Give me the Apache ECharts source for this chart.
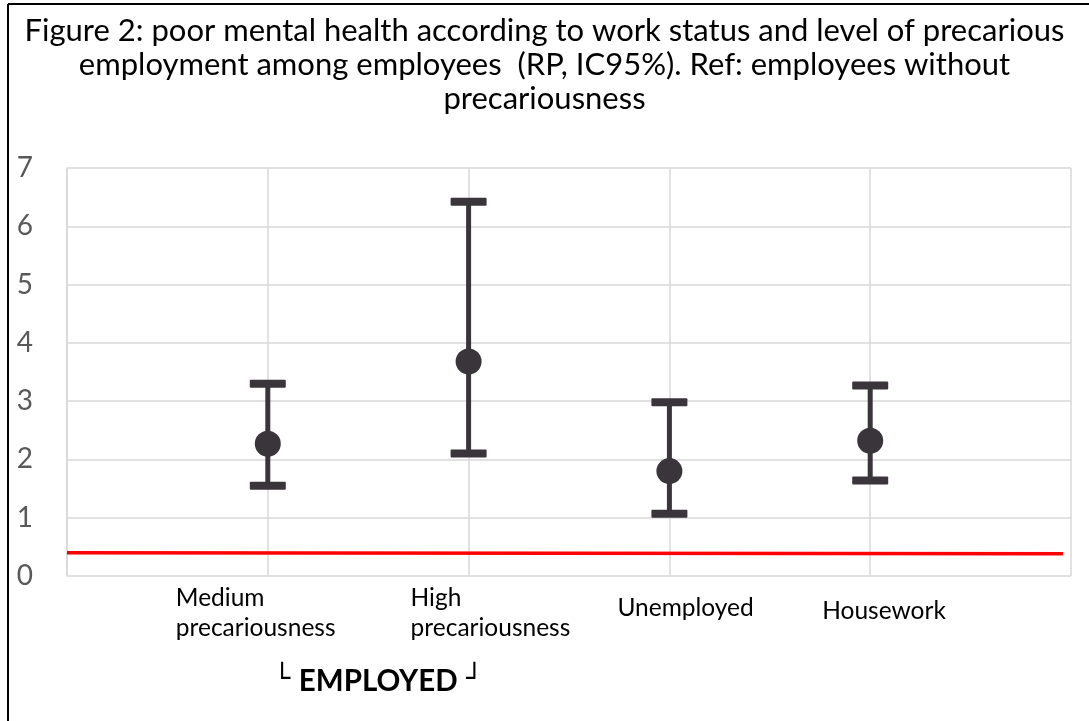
<!DOCTYPE html>
<html><head><meta charset="utf-8">
<script src="https://cdn.jsdelivr.net/npm/echarts@6/dist/echarts.min.js"></script>
<style>html,body{margin:0;padding:0;background:#fff}#c{width:1089px;height:721px}</style>
</head><body><div id="c"></div>
<script>
const categories = ['Medium\nprecariousness', 'High\nprecariousness', 'Unemployed', 'Housework'];
const categoryX = [1, 2, 3, 4];
const rp = [2.27, 3.68, 1.80, 2.32];
const lower = [1.55, 2.10, 1.07, 1.64];
const upper = [3.30, 6.42, 2.98, 3.27];
const refLineX = [0, 4.96];
const refLineY = [0.40, 0.38];
const yTicks = [0, 1, 2, 3, 4, 5, 6, 7];

const DARK = '#3a353a';
const FONT = 'Lato, "Liberation Sans", sans-serif';

const chart = echarts.init(document.getElementById('c'));

const labelStyles = {
  m: {pl: 0, w: 184, pt: 0},
  h: {pl: 54, w: 170, pt: 0},
  u: {pl: 36, w: 140, pt: 20},
  w: {pl: 34, w: 130, pt: 27}
};
const keys = ['m', 'h', 'u', 'w'];
const rich = {};
keys.forEach(k => {
  const s = labelStyles[k];
  rich[k] = {fontSize: 24.5, fontFamily: FONT, color: '#000', width: s.w, align: 'left',
             padding: [s.pt, 0, 0, s.pl], lineHeight: 30};
});

chart.setOption({
  animation: false,
  backgroundColor: '#fff',
  title: {
    text: 'Figure 2: poor mental health according to work status and level of precarious\nemployment among employees  (RP, IC95%). Ref: employees without\nprecariousness',
    left: 'center', top: 9,
    textStyle: {fontFamily: FONT, fontSize: 31, fontWeight: 'normal', color: '#000', lineHeight: 34}
  },
  grid: {left: 67, right: 18, top: 168, bottom: 145},
  xAxis: {
    type: 'value', min: 0, max: 5, interval: 1,
    axisLine: {show: false}, axisTick: {show: false},
    splitLine: {show: true, lineStyle: {color: '#d9d9d9', width: 1.5}},
    axisLabel: {
      margin: 7,
      formatter: v => {
        const i = categoryX.indexOf(v);
        if (i < 0) return '';
        return categories[i].split('\n').map(l => '{' + keys[i] + '|' + l + '}').join('\n');
      },
      rich: rich
    }
  },
  yAxis: {
    type: 'value', min: yTicks[0], max: yTicks[yTicks.length - 1], interval: 1,
    axisLine: {show: true, lineStyle: {color: '#d9d9d9', width: 1.5}}, axisTick: {show: false},
    splitLine: {show: true, lineStyle: {color: '#d9d9d9', width: 1.5}},
    axisLabel: {margin: 34, fontSize: 28, fontFamily: FONT, color: '#595959'}
  },
  graphic: [
    {type: 'line', shape: {x1: 8, y1: 4, x2: 8, y2: 721}, style: {stroke: '#000', lineWidth: 2}},
    {type: 'line', shape: {x1: 8, y1: 4, x2: 1089, y2: 4}, style: {stroke: '#000', lineWidth: 2}},
    {type: 'text', left: 274, top: 666, style: {
      text: '{a|└ }{b|EMPLOYED}{a| ┘}',
      rich: {a: {fontSize: 27, fontFamily: 'DejaVu Sans', fill: '#000', padding: [0,0,4,0]},
             b: {fontSize: 29.5, fontWeight: 'bold', fontFamily: FONT, fill: '#000'}}
    }}
  ],
  series: [
    {
      type: 'line', data: refLineX.map((x, i) => [x, refLineY[i]]),
      symbol: 'none', lineStyle: {color: '#ff0000', width: 3.5}, z: 1
    },
    {
      type: 'custom',
      data: categoryX.map((x, i) => [x, lower[i], upper[i]]),
      renderItem: (params, api) => {
        const x = api.value(0);
        const lo = api.coord([x, api.value(1)]);
        const hi = api.coord([x, api.value(2)]);
        const cw = 36, ch = 8;
        return {type: 'group', children: [
          {type: 'line', shape: {x1: lo[0], y1: lo[1], x2: hi[0], y2: hi[1]}, style: {stroke: DARK, lineWidth: 5}},
          {type: 'rect', shape: {x: hi[0] - cw / 2, y: hi[1] - ch / 2, width: cw, height: ch, r: 1}, style: {fill: DARK}},
          {type: 'rect', shape: {x: lo[0] - cw / 2, y: lo[1] - ch / 2, width: cw, height: ch, r: 1}, style: {fill: DARK}}
        ]};
      },
      z: 2
    },
    {
      type: 'scatter', data: categoryX.map((x, i) => [x, rp[i]]),
      symbol: 'circle', symbolSize: 26, itemStyle: {color: DARK, opacity: 1}, z: 3
    }
  ]
});
</script></body></html>
